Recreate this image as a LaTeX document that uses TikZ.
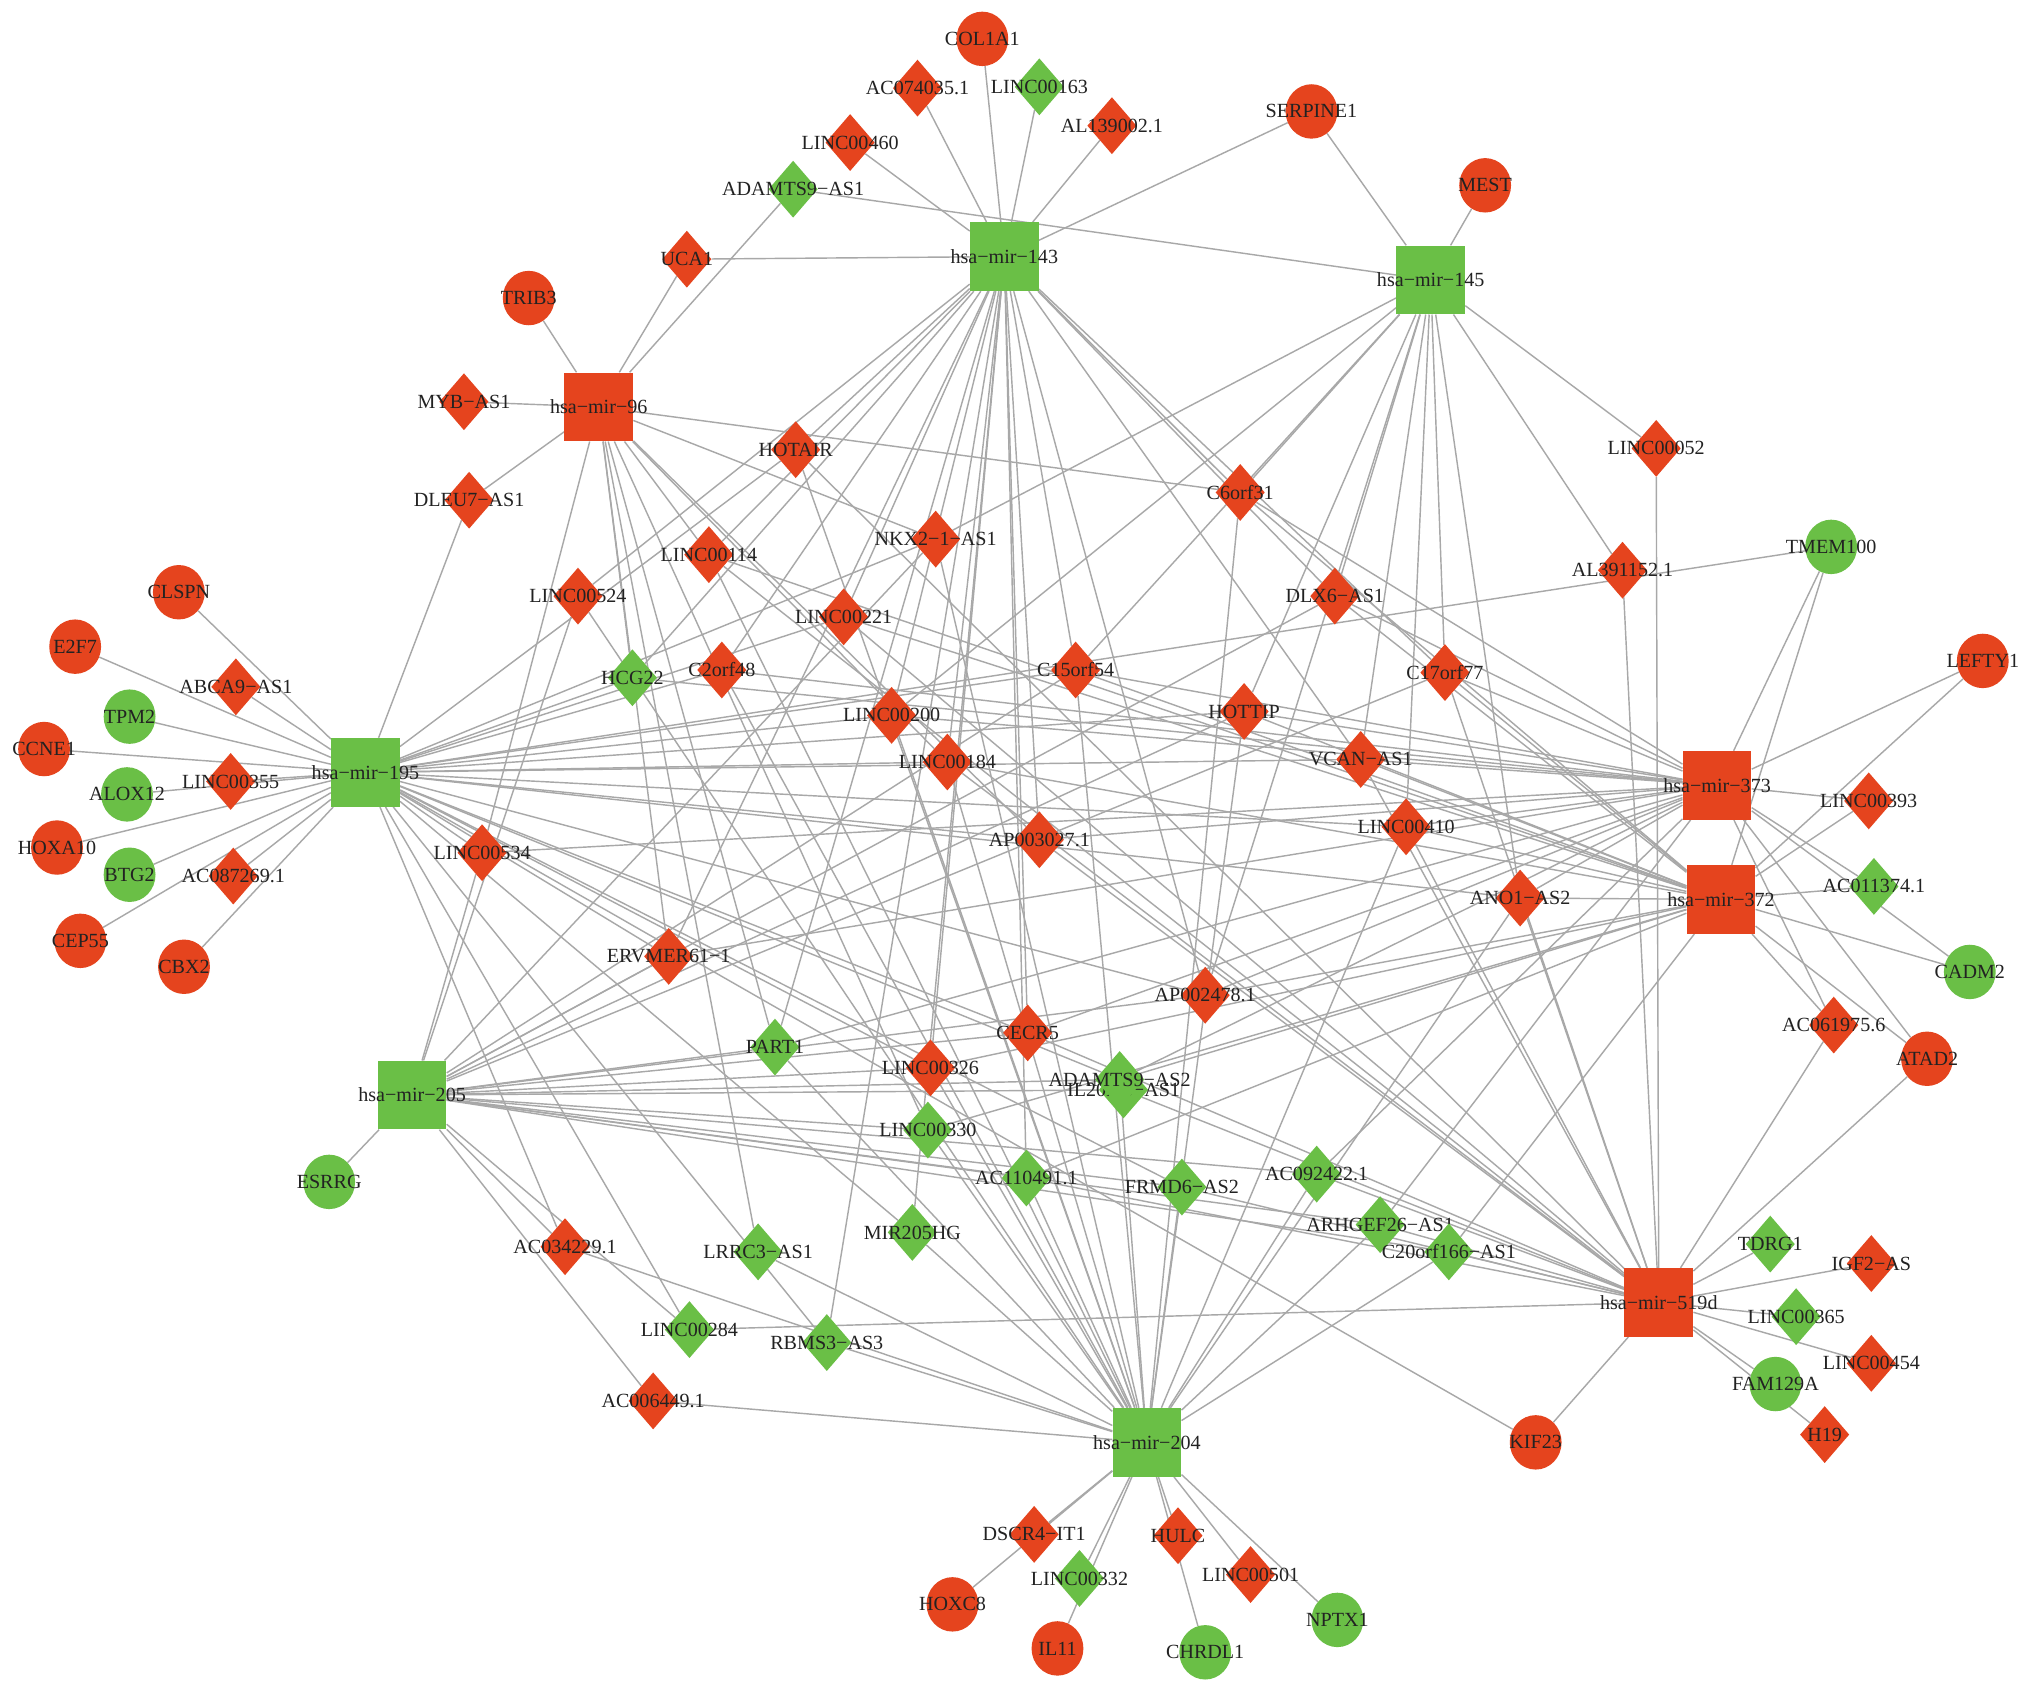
\documentclass[tikz,border=0pt]{standalone}
\usepackage{fontspec}
\setmainfont{Liberation Serif}
\usetikzlibrary{shapes.geometric}
\pgfdeclarelayer{back}
\pgfdeclarelayer{bg}
\pgfsetlayers{back,bg,main}
\definecolor{nred}{HTML}{E5441E}
\definecolor{ngreen}{HTML}{6ABF46}
\definecolor{edgec}{HTML}{A8A8A8}
\definecolor{txt}{HTML}{222222}
\begin{document}
\begin{tikzpicture}[x=1pt,y=-1pt,
  lbl/.style={font=\fontsize{15.5}{16}\selectfont,text=txt,inner sep=0pt},
  shp/.style={draw=none,inner sep=0pt,label={[lbl]center:#1}},
  hr/.style={shp=#1,rectangle,fill=nred,minimum size=53pt},
  hg/.style={shp=#1,rectangle,fill=ngreen,minimum size=53pt},
  dr/.style={shp=#1,diamond,fill=nred,minimum width=38pt,minimum height=44pt},
  dg/.style={shp=#1,diamond,fill=ngreen,minimum width=38pt,minimum height=44pt},
  cr/.style={shp=#1,ellipse,fill=nred,minimum width=40pt,minimum height=42pt},
  cg/.style={shp=#1,ellipse,fill=ngreen,minimum width=40pt,minimum height=42pt},
  ed/.style={draw=edgec,line width=1.1pt}]
\begin{pgfonlayer}{back}
\fill[white] (0,0) rectangle (1568,1305);
\end{pgfonlayer}
\useasboundingbox (0,0) rectangle (1568,1305);
% hubs
\node[hg={hsa−mir−143}] (m143) at (775,198) {};
\node[hg={hsa−mir−145}] (m145) at (1104,216) {};
\node[hr={hsa−mir−96}] (m96) at (462,314) {};
\node[hg={hsa−mir−195}] (m195) at (282,596) {};
\node[hr={hsa−mir−373}] (m373) at (1325,606) {};
\node[hr={hsa−mir−372}] (m372) at (1328,694) {};
\node[hg={hsa−mir−205}] (m205) at (318,845) {};
\node[hg={hsa−mir−204}] (m204) at (885,1113) {};
\node[hr={hsa−mir−519d}] (m519) at (1280,1005) {};
% mRNAs
\node[cr={COL1A1}] (colA) at (758,30) {};
\node[cr={SERPINE1}] (serp) at (1012,86) {};
\node[cr={MEST}] (mest) at (1146,143) {};
\node[cr={TRIB3}] (trib) at (408,230) {};
\node[cg={TMEM100}] (tmem) at (1413,422) {};
\node[cr={LEFTY1}] (lefty) at (1530,510) {};
\node[cr={CLSPN}] (clspn) at (138,457) {};
\node[cr={E2F7}] (etwo) at (58,499) {};
\node[cg={TPM2}] (tpm) at (100,553) {};
\node[cr={CCNE1}] (ccne) at (34,578) {};
\node[cg={ALOX12}] (alox) at (98,613) {};
\node[cr={HOXA10}] (hoxa) at (44,654) {};
\node[cg={BTG2}] (btg) at (100,675) {};
\node[cr={CEP55}] (cep) at (62,726) {};
\node[cr={CBX2}] (cbx) at (142,746) {};
\node[cg={CADM2}] (cadm) at (1520,750) {};
\node[cr={ATAD2}] (atad) at (1487,817) {};
\node[cg={ESRRG}] (esrrg) at (254,912) {};
\node[cr={KIF23}] (kif) at (1185,1113) {};
\node[cg={FAM129A}] (fam) at (1370,1068) {};
\node[cr={HOXC8}] (hoxc) at (735,1238) {};
\node[cr={IL11}] (ilel) at (816,1272) {};
\node[cg={CHRDL1}] (chrdl) at (930,1275) {};
\node[cg={NPTX1}] (nptx) at (1032,1250) {};
% lncRNAs
\node[dr={AC074035.1}] (acA) at (708,68) {};
\node[dg={LINC00163}] (l163) at (802,67) {};
\node[dr={AL139002.1}] (alA) at (858,97) {};
\node[dr={LINC00460}] (l460) at (656,110) {};
\node[dg={ADAMTS9−AS1}] (ad1) at (612,146) {};
\node[dr={UCA1}] (uca) at (530,200) {};
\node[dr={MYB−AS1}] (myb) at (358,310) {};
\node[dr={DLEU7−AS1}] (dleu) at (362,386) {};
\node[dr={HOTAIR}] (hotair) at (614,347) {};
\node[dr={C6orf31}] (csix) at (957,380) {};
\node[dr={LINC00052}] (l052) at (1278,346) {};
\node[dr={NKX2−1−AS1}] (nkx) at (722,416) {};
\node[dr={LINC00114}] (l114) at (547,428) {};
\node[dr={AL391152.1}] (alB) at (1252,440) {};
\node[dr={LINC00524}] (l524) at (446,460) {};
\node[dr={LINC00221}] (l221) at (651,476) {};
\node[dr={DLX6−AS1}] (dlx) at (1030,460) {};
\node[dg={HCG22}] (hcg) at (488,523) {};
\node[dr={C2orf48}] (ctwo) at (557,517) {};
\node[dr={C15orf54}] (cfif) at (830,517) {};
\node[dr={C17orf77}] (csev) at (1115,519) {};
\node[dr={LINC00200}] (l200) at (688,552) {};
\node[dr={HOTTIP}] (hottip) at (960,549) {};
\node[dr={LINC00184}] (l184) at (731,588) {};
\node[dr={VCAN−AS1}] (vcan) at (1050,586) {};
\node[dr={LINC00393}] (l393) at (1442,618) {};
\node[dr={LINC00410}] (l410) at (1085,638) {};
\node[dr={AP003027.1}] (apA) at (802,648) {};
\node[dr={LINC00534}] (l534) at (372,658) {};
\node[dg={AC011374.1}] (acB) at (1446,684) {};
\node[dr={ANO1−AS2}] (ano) at (1173,693) {};
\node[dr={ERVMER61−1}] (erv) at (516,738) {};
\node[dr={AP002478.1}] (apB) at (930,768) {};
\node[dr={CECR5}] (cecr) at (793,797) {};
\node[dr={AC061975.6}] (acC) at (1415,791) {};
\node[dg={PART1}] (part) at (598,808) {};
\node[dr={LINC00326}] (l326) at (718,824) {};
\node[dg={IL20RB−AS1}] (ilr) at (867,841) {};
\node[dg={ADAMTS9−AS2}] (ad2) at (864,833) {};
\node[dg={LINC00330}] (l330) at (716,872) {};
\node[dg={AC110491.1}] (acD) at (792,909) {};
\node[dg={FRMD6−AS2}] (frmd) at (912,916) {};
\node[dg={AC092422.1}] (acE) at (1016,906) {};
\node[dg={ARHGEF26−AS1}] (arh) at (1065,945) {};
\node[dg={C20orf166−AS1}] (ctw) at (1118,966) {};
\node[dg={TDRG1}] (tdrg) at (1366,960) {};
\node[dr={IGF2−AS}] (igf) at (1444,975) {};
\node[dg={LINC00365}] (l365) at (1386,1016) {};
\node[dr={LINC00454}] (l454) at (1444,1052) {};
\node[dr={H19}] (hnt) at (1408,1107) {};
\node[dr={ABCA9−AS1}] (abca) at (182,530) {};
\node[dr={LINC00355}] (l355) at (178,603) {};
\node[dr={AC087269.1}] (acF) at (180,676) {};
\node[dr={AC034229.1}] (acG) at (436,962) {};
\node[dg={LRRC3−AS1}] (lrrc) at (585,966) {};
\node[dg={MIR205HG}] (mirhg) at (704,951) {};
\node[dg={LINC00284}] (l284) at (532,1026) {};
\node[dg={RBMS3−AS3}] (rbms) at (638,1036) {};
\node[dr={AC006449.1}] (acH) at (504,1081) {};
\node[dr={DSCR4−IT1}] (dscr) at (798,1184) {};
\node[dr={HULC}] (hulc) at (909,1185) {};
\node[dg={LINC00332}] (l332) at (833,1218) {};
\node[dr={LINC00501}] (l501) at (965,1215) {};
% edges
\begin{pgfonlayer}{bg}
\foreach \t in {colA,acA,l163,alA,l460,serp,uca,hotair,l114,l524,l221,dlx,hcg,ctwo,cfif,csev,l200,l184,vcan,apA,erv,cecr,part,l326,acD,mirhg,rbms,apB,csix}
  \draw[ed] (m143) -- (\t);
\foreach \t in {mest,serp,ad1,l052,alB,csix,nkx,dlx,cfif,csev,hottip,vcan,l410,l200,apB,ano}
  \draw[ed] (m145) -- (\t);
\foreach \t in {trib,myb,dleu,uca,ad1,csix,nkx,l114,hcg,l534,l184,erv,part,lrrc,l330,apA}
  \draw[ed] (m96) -- (\t);
\foreach \t in {clspn,etwo,abca,tpm,ccne,l355,alox,hoxa,btg,acF,cep,cbx,dleu,hcg,ctwo,l221,l200,l184,cfif,hottip,vcan,tmem,l410,apA,l534,ano,erv,apB,cecr,l326,ad2,frmd,acG,mirhg,rbms,kif,hotair,nkx,l284}
  \draw[ed] (m195) -- (\t);
\foreach \t in {tmem,lefty,l393,acB,cadm,acC,atad,csix,dlx,csev,hottip,vcan,l410,cfif,ctwo,l200,hcg,apA,l534,erv,apB,cecr,part,ad2,acE,arh,ano}
  \draw[ed] (m373) -- (\t);
\foreach \t in {tmem,lefty,l393,acB,cadm,acC,atad,csix,dlx,csev,hottip,vcan,l410,cfif,l221,l114,l184,ano,apB,l326,ad2,l330,ctw,acD}
  \draw[ed] (m372) -- (\t);
\foreach \t in {esrrg,acG,acH,l284,l524,l534,nkx,dlx,cfif,hottip,erv,apB,cecr,part,l326,ad2,ilr,l330,acD,frmd,acE,arh,ctw,csev}
  \draw[ed] (m205) -- (\t);
\foreach \t in {hoxc,dscr,l332,ilel,hulc,chrdl,l501,nptx,acH,rbms,lrrc,mirhg,acG,l524,hotair,nkx,l114,ctwo,l200,l184,cfif,hottip,csix,l410,ano,part,l326,ad2,l330,acD,frmd,acE,arh,ctw}
  \draw[ed] (m204) -- (\t);
\foreach \t in {kif,tdrg,igf,l365,l454,fam,hnt,l052,alB,l284,hotair,l114,l221,csev,vcan,apA,cecr,ilr,acD,frmd,acE,arh,ctw,atad,acC,l184,ano,l410}
  \draw[ed] (m519) -- (\t);
\end{pgfonlayer}
\end{tikzpicture}
\end{document}
